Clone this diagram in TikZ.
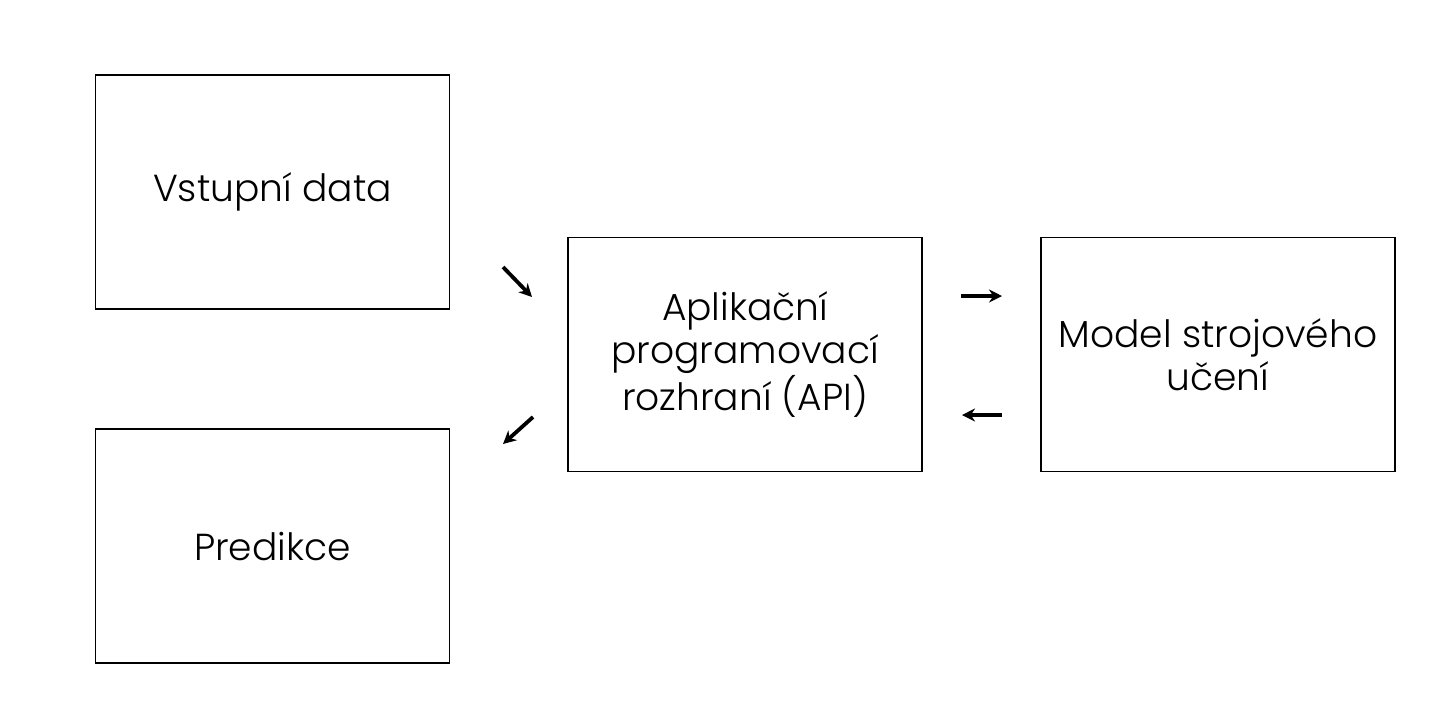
\documentclass[tikz,border=0pt]{standalone}
\usepackage{fontspec}
\setmainfont{Poppins}[UprightFont={* Light}]
\usetikzlibrary{arrows.meta}
\begin{document}
\begin{tikzpicture}[x=0.5pt,y=-0.5pt,
  box/.style={draw, line width=0.7pt, minimum width=177pt, minimum height=117pt, align=center, inner sep=0pt, font=\fontsize{18.8}{21.5}\selectfont},
  arr/.style={line width=1.9pt, -{Stealth[length=6.5pt,width=6.5pt]}}]
\useasboundingbox (0,0) rectangle (1440,720);
\node[box] (in) at (272.5,192) {Vstupní data};
\node[box] (pred) at (272.5,546) {Predikce};
\node[box] (api) at (745,354.5) {Aplikační\\programovací\\rozhraní (API)};
\node[box] (ml) at (1218,354.5) {Model strojového\\učení};
\coordinate (a1s) at (503,267); \coordinate (a1e) at (532,297);
\coordinate (a2s) at (533,417); \coordinate (a2e) at (503,444);
\coordinate (a3s) at (961,296); \coordinate (a3e) at (1002,296);
\coordinate (a4s) at (1002,415); \coordinate (a4e) at (962,415);
\draw[arr] (a1s) -- (a1e);
\draw[arr] (a2s) -- (a2e);
\draw[arr] (a3s) -- (a3e);
\draw[arr] (a4s) -- (a4e);
\end{tikzpicture}
\end{document}
